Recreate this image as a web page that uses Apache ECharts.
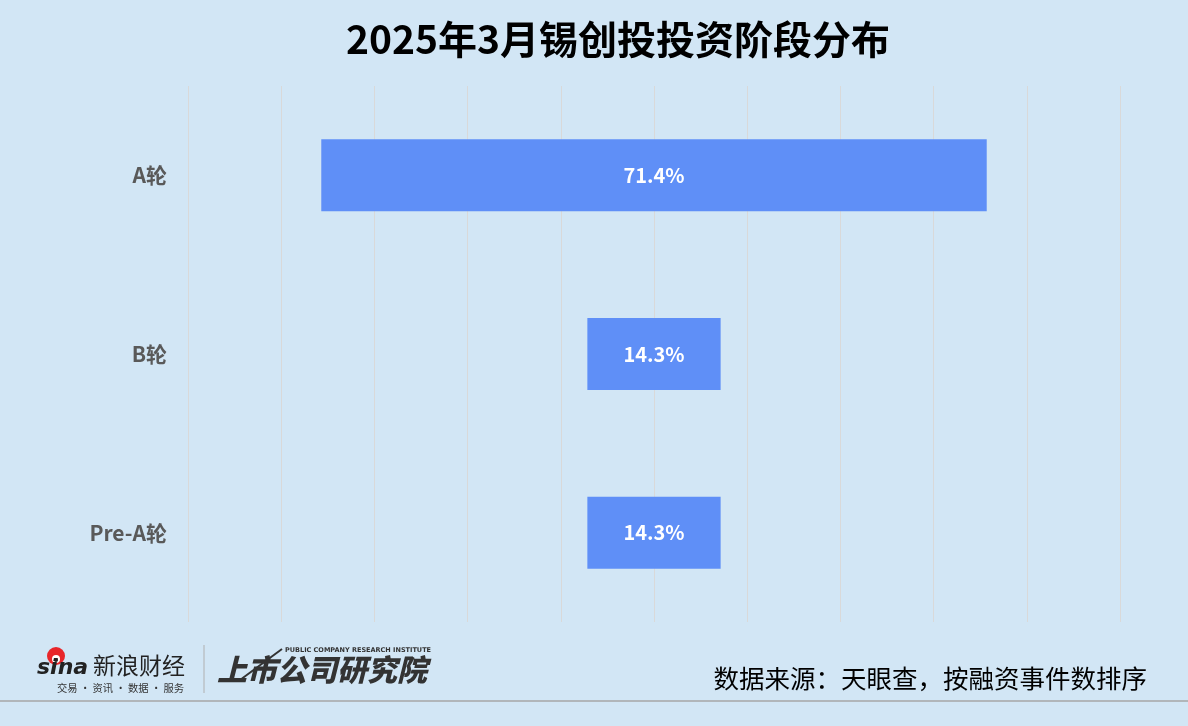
<!DOCTYPE html>
<html><head><meta charset="utf-8">
<script src="https://cdn.jsdelivr.net/npm/echarts@6/dist/echarts.min.js"></script>
<style>html,body{margin:0;padding:0;background:#d2e6f5;}#c{width:1188px;height:726px;}</style>
</head><body><div id="c"></div>
<script>
const categories = ['A轮', 'B轮', 'Pre-A轮'];
const values = [71.4, 14.3, 14.3];
const axisMax = 100;
const offsets = values.map(v => (axisMax - v) / 2);

const chart = echarts.init(document.getElementById('c'), null, {renderer: 'canvas'});
const cjk = '"Noto Sans CJK SC", "Noto Sans", sans-serif';
chart.setOption({
  backgroundColor: '#d2e6f5',
  animation: false,
  title: {
    text: '2025年3月锡创投投资阶段分布', left: 341, top: 15,
    textStyle: {fontFamily: cjk, fontSize: 39, fontWeight: 'bold', color: '#000'}
  },
  grid: {left: 188, right: 68, top: 86, bottom: 104},
  xAxis: {
    type: 'value', min: 0, max: axisMax, interval: 10,
    axisLabel: {show: false}, axisLine: {show: false}, axisTick: {show: false},
    splitLine: {show: true, lineStyle: {color: '#d9d9d9', width: 1}}
  },
  yAxis: {
    type: 'category', data: categories, inverse: true,
    axisLine: {show: false}, axisTick: {show: false},
    axisLabel: {fontFamily: cjk, fontSize: 21, fontWeight: 'bold', color: '#595959', margin: 21}
  },
  series: [
    {type: 'bar', stack: 's', data: offsets, barWidth: 72, itemStyle: {color: 'transparent'}, silent: true},
    {type: 'bar', stack: 's', data: values, barWidth: 72, itemStyle: {color: '#5f8ff7'},
     label: {show: true, position: 'inside', formatter: p => p.value.toFixed(1) + '%',
       fontFamily: cjk, fontSize: 20, fontWeight: 'bold', color: '#fff'}}
  ],
  graphic: [
    {type: 'line', shape: {x1: 0, y1: 701, x2: 1188, y2: 701}, style: {stroke: '#a6a6a6', lineWidth: 1.5}},
    {type: 'text', right: 41, top: 666, style: {text: '数据来源：天眼查，按融资事件数排序', font: '25.5px "Noto Sans CJK SC", sans-serif', fill: '#000'}},
    {type: 'line', shape: {x1: 204, y1: 645, x2: 204, y2: 693}, style: {stroke: '#b0b0b0', lineWidth: 1}},
    {type: 'circle', shape: {cx: 56, cy: 656, r: 9}, style: {fill: '#e8262a'}},
    {type: 'circle', shape: {cx: 56, cy: 659, r: 4}, style: {fill: '#ffffff'}},
    {type: 'circle', shape: {cx: 56, cy: 660, r: 2}, style: {fill: '#222'}},
    {type: 'text', left: 37, top: 657, style: {text: 'sina', font: 'italic bold 22px "DejaVu Sans", sans-serif', fill: '#222'}},
    {type: 'text', left: 93, top: 654, style: {text: '新浪财经', font: '23px "Noto Sans CJK SC", sans-serif', fill: '#222'}},
    {type: 'text', left: 57, top: 683, style: {text: '交易 · 资讯 · 数据 · 服务', font: '10.3px "Noto Sans CJK SC", sans-serif', fill: '#333'}},
    {type: 'text', left: 285, top: 647, style: {text: 'PUBLIC COMPANY RESEARCH INSTITUTE', font: 'bold 6.5px "DejaVu Sans", sans-serif', fill: '#333'}},
    {type: 'line', shape: {x1: 240, y1: 680, x2: 282, y2: 649}, style: {stroke: '#333', lineWidth: 2}},
    {type: 'text', left: 217, top: 655, style: {text: '上市公司研究院', font: 'italic 900 30px "Noto Sans CJK SC", sans-serif', fill: '#333'}}
  ]
});
</script></body></html>
